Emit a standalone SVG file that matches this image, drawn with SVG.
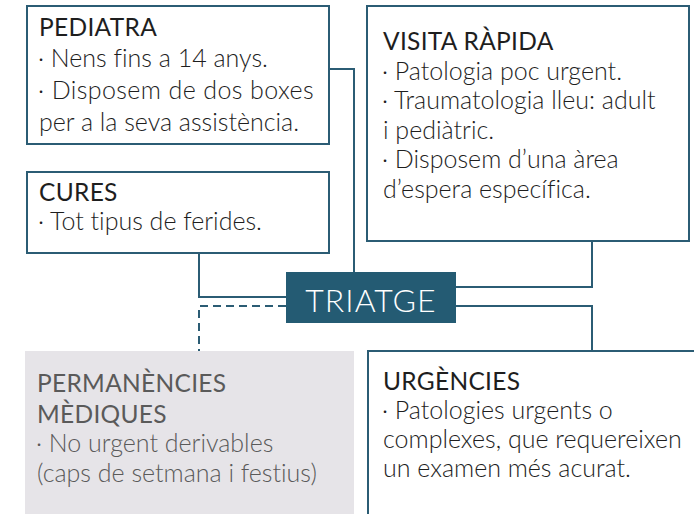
<svg xmlns="http://www.w3.org/2000/svg" width="694" height="514" viewBox="0 0 694 514">
<style>
.box{fill:#ffffff;stroke:#2b5c74;stroke-width:2}
.ln{fill:none;stroke:#2b5c74;stroke-width:2}
.dash{fill:none;stroke:#2b5c74;stroke-width:2;stroke-dasharray:8 5}
text{font-family:Lato,"Noto Sans","DejaVu Sans",sans-serif;font-size:25px;font-weight:300;fill:#1e1e1e;font-variant-ligatures:none}
.h{font-weight:400;font-size:24.5px;letter-spacing:0.3px}
.g{fill:#5a5a5a}
.t{font-size:32px;fill:#ffffff;letter-spacing:1px}
</style>
<rect width="694" height="514" fill="#ffffff"/>
<g id="connectors">
<polyline class="ln" points="329,69 354,69 354,272"/>
<polyline class="ln" points="199,253 199,297 286,297"/>
<polyline class="dash" points="286,306 199,306 199,351"/>
<polyline class="ln" points="456,287 592,287 592,241"/>
<polyline class="ln" points="456,306 592,306 592,351"/>
</g>
<g id="pediatra">
<rect class="box" x="27" y="6" width="302" height="138"/>
<text class="h" x="39" y="36">PEDIATRA</text>
<text x="38" y="67">· Nens fins a 14 anys.</text>
<text x="38" y="99" letter-spacing="0.4">· Disposem de dos boxes</text>
<text x="39" y="131">per a la seva assistència.</text>
</g>
<g id="cures">
<rect class="box" x="27" y="172" width="302" height="81"/>
<text class="h" x="39" y="201">CURES</text>
<text x="38" y="230">· Tot tipus de ferides.</text>
</g>
<g id="visita">
<rect class="box" x="367" y="6" width="322" height="235"/>
<text class="h" x="383" y="50">VISITA RÀPIDA</text>
<text x="382" y="80">· Patologia poc urgent.</text>
<text x="382" y="109">· Traumatologia lleu: adult</text>
<text x="383" y="139">i pediàtric.</text>
<text x="382" y="168">· Disposem d’una àrea</text>
<text x="383" y="198">d’espera específica.</text>
</g>
<g id="triatge">
<rect x="286" y="272" width="170" height="51" fill="#245b73"/>
<text class="t" x="371" y="312" text-anchor="middle">TRIATGE</text>
</g>
<g id="permanencies">
<rect x="25" y="351" width="329" height="163" fill="#e6e4e8"/>
<text class="h g" x="37" y="392">PERMANÈNCIES</text>
<text class="h g" x="37" y="423">MÈDIQUES</text>
<text class="g" x="36" y="452">· No urgent derivables</text>
<text class="g" x="37" y="482">(caps de setmana i festius)</text>
</g>
<g id="urgencies">
<rect class="box" x="368" y="351" width="340" height="180"/>
<text class="h" x="383" y="390">URGÈNCIES</text>
<text x="382" y="419">· Patologies urgents o</text>
<text x="383" y="448">complexes, que requereixen</text>
<text x="383" y="477">un examen més acurat.</text>
</g>
</svg>
